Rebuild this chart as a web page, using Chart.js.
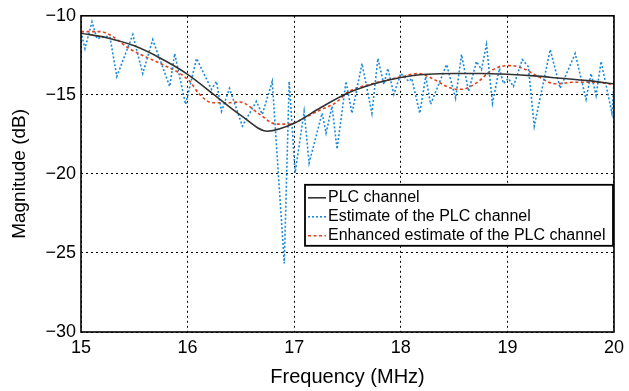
<!DOCTYPE html>
<html>
<head>
<meta charset="utf-8">
<script src="https://cdn.jsdelivr.net/npm/chart.js@4/dist/chart.umd.min.js"></script>
<style>
html,body{margin:0;padding:0;background:#fff;}
#wrap{width:629px;height:391px;}
</style>
</head>
<body>
<div id="wrap"><canvas id="c" width="629" height="391"></canvas></div>
<script>
// ---- data ----
const xTicks = [15, 16, 17, 18, 19, 20];
const yTicks = [-30, -25, -20, -15, -10];
const seriesLabels = ['PLC channel', 'Estimate of the PLC channel', 'Enhanced estimate of the PLC channel'];

const freqTrue = [15.0,15.25,15.5,15.75,16.0,16.25,16.5,16.75,17.0,17.25,17.5,17.75,18.0,18.25,18.5,18.75,19.0,19.25,19.5,19.75,20.0];
const magTrue  = [-11.1,-11.4,-11.9,-12.7,-13.7,-15.0,-16.3,-17.3,-16.8,-15.8,-14.9,-14.3,-13.9,-13.7,-13.65,-13.65,-13.7,-13.8,-13.95,-14.1,-14.3];

const freqEst = [15.0,15.037,15.103,15.15,15.215,15.271,15.336,15.486,15.579,15.673,15.832,15.879,15.981,16.084,16.224,16.271,16.318,16.393,16.514,16.645,16.701,16.794,16.907,16.953,17.009,17.093,17.14,17.262,17.299,17.355,17.402,17.486,17.542,17.636,17.729,17.785,17.841,17.879,17.935,18.0,18.075,18.103,18.178,18.234,18.28,18.43,18.514,18.57,18.636,18.71,18.757,18.804,18.86,18.925,18.963,19.009,19.056,19.14,19.196,19.252,19.402,19.495,19.636,19.738,19.785,19.832,19.879,19.981,20.0];
const magEst  = [-11.01,-12.08,-10.38,-11.45,-11.32,-11.32,-13.84,-11.19,-13.65,-11.51,-14.47,-12.39,-15.6,-12.7,-14.65,-14.15,-16.04,-14.59,-16.98,-15.41,-16.23,-14.15,-25.66,-14.15,-19.94,-16.04,-19.31,-16.16,-17.42,-15.72,-18.43,-14.15,-16.16,-13.02,-16.16,-12.7,-14.34,-13.33,-14.97,-13.65,-14.15,-13.96,-16.16,-13.84,-15.6,-13.08,-15.22,-12.45,-14.78,-12.89,-13.4,-11.82,-15.53,-13.33,-14.28,-13.96,-14.47,-12.77,-13.21,-16.98,-12.14,-14.59,-12.39,-15.28,-13.65,-15.03,-12.89,-16.16,-14.28];

const freqEnh = [15.0,15.18,15.27,15.46,15.77,15.93,16.02,16.11,16.23,16.39,16.49,16.67,16.83,16.95,17.02,17.23,17.39,17.51,17.73,18.01,18.17,18.29,18.48,18.57,18.73,18.82,18.94,19.04,19.17,19.29,19.45,19.64,19.82,20.0];
const magEnh  = [-11.0,-11.0,-11.2,-12.1,-13.1,-13.65,-14.15,-14.95,-15.5,-15.5,-15.45,-16.2,-16.85,-16.85,-16.7,-16.0,-15.5,-14.8,-14.3,-13.85,-13.65,-13.95,-14.6,-14.65,-14.15,-13.6,-13.2,-13.15,-13.4,-13.85,-14.3,-14.2,-14.2,-14.35];

const toPts = (xs, ys) => xs.map((x, i) => ({x: x, y: ys[i]}));
const FONT = "'Liberation Sans', Arial, Helvetica, sans-serif";

const boxAndLegend = {
  id: 'boxAndLegend',
  afterDraw(chart) {
    const ctx = chart.ctx;
    const a = chart.chartArea;
    ctx.save();
    ctx.setLineDash([]);
    ctx.strokeStyle = '#000';
    ctx.lineWidth = 1.6;
    ctx.strokeRect(a.left, a.top, a.right - a.left, a.bottom - a.top);
    // legend
    const lx = a.left + 224, ly = a.top + 169, lw = 308, lh = 61;
    ctx.fillStyle = '#fff';
    ctx.fillRect(lx, ly, lw, lh);
    ctx.lineWidth = 1.8;
    ctx.strokeStyle = '#000';
    ctx.strokeRect(lx, ly, lw, lh);
    ctx.font = '16px ' + FONT;
    ctx.textBaseline = 'middle';
    ctx.textAlign = 'left';
    chart.data.datasets.forEach((ds, i) => {
      const y = ly + 13 + i * 19;
      ctx.beginPath();
      ctx.setLineDash(ds.borderDash || []);
      ctx.strokeStyle = ds.borderColor;
      ctx.lineWidth = ds.borderWidth;
      ctx.moveTo(lx + 3, y);
      ctx.lineTo(lx + 21, y);
      ctx.stroke();
      ctx.setLineDash([]);
      ctx.fillStyle = '#000';
      ctx.fillText(ds.label, lx + 23, y);
    });
    ctx.restore();
  }
};

new Chart(document.getElementById('c'), {
  type: 'line',
  data: {
    datasets: [
      {label: seriesLabels[0], data: toPts(freqTrue, magTrue), borderColor: '#333333', borderWidth: 1.6, pointRadius: 0, cubicInterpolationMode: 'monotone', fill: false},
      {label: seriesLabels[1], data: toPts(freqEst, magEst), borderColor: '#1c8ad6', borderWidth: 1.6, borderDash: [2, 2], pointRadius: 0, tension: 0, fill: false},
      {label: seriesLabels[2], data: toPts(freqEnh, magEnh), borderColor: '#e4401c', borderWidth: 1.6, borderDash: [3, 2.5], pointRadius: 0, cubicInterpolationMode: 'monotone', fill: false}
    ]
  },
  options: {
    responsive: false,
    animation: false,
    devicePixelRatio: 1,
    layout: {padding: {top: 14, right: 13, left: 0, bottom: 0}},
    plugins: {legend: {display: false}, tooltip: {enabled: false}},
    scales: {
      x: {
        type: 'linear', min: 15, max: 20,
        afterBuildTicks: s => { s.ticks = xTicks.map(v => ({value: v})); },
        afterFit: s => { s.height = 59; },
        ticks: {color: '#000', font: {family: FONT, size: 18}, padding: 5, maxRotation: 0},
        grid: {color: '#000', lineWidth: 1, drawTicks: false},
        border: {display: false, dash: [2, 3]},
        title: {display: true, text: 'Frequency (MHz)', color: '#000', font: {family: FONT, size: 20}, padding: {top: 0, bottom: 2}}
      },
      y: {
        type: 'linear', min: -30, max: -10,
        afterBuildTicks: s => { s.ticks = yTicks.map(v => ({value: v})); },
        afterFit: s => { s.width = 81; },
        ticks: {color: '#000', font: {family: FONT, size: 18}, padding: 5, callback: v => String(v).replace('-', '\u2212')},
        grid: {color: '#000', lineWidth: 1, drawTicks: false},
        border: {display: false, dash: [2, 3]},
        title: {display: true, text: 'Magnitude (dB)', color: '#000', font: {family: FONT, size: 19}, padding: {top: 8, bottom: 0}}
      }
    }
  },
  plugins: [boxAndLegend]
});
</script>
</body>
</html>
